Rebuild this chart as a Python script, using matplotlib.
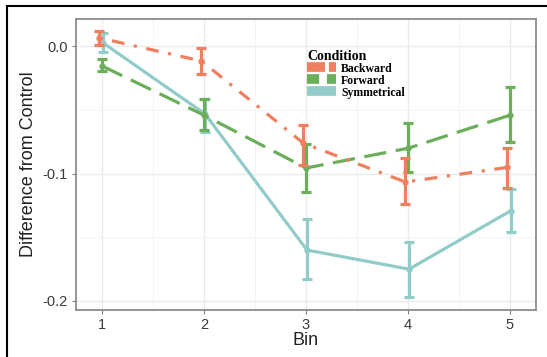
import matplotlib
matplotlib.use("Agg")
import matplotlib.pyplot as plt
from matplotlib.lines import Line2D
from matplotlib.patches import Rectangle
import numpy as np

bins = [1, 2, 3, 4, 5]
conditions = ["Backward", "Forward", "Symmetrical"]
backward = [0.0067, -0.0114, -0.076, -0.1065, -0.095]
backward_lo = [0.001, -0.0216, -0.093, -0.124, -0.111]
backward_hi = [0.012, -0.001, -0.062, -0.088, -0.080]
forward = [-0.0153, -0.054, -0.0955, -0.080, -0.054]
forward_lo = [-0.019, -0.066, -0.114, -0.0986, -0.075]
forward_hi = [-0.0098, -0.041, -0.077, -0.0605, -0.032]
symm = [0.0028, -0.053, -0.160, -0.175, -0.129]
symm_lo = [-0.0043, -0.067, -0.1827, -0.197, -0.1458]
symm_hi = [0.0106, -0.041, -0.1355, -0.1536, -0.112]

colors = ["#EE7F5F", "#6BAE5B", "#92CCC8"]
offsets = [-0.025, 0.0, 0.01]

plt.rcParams['font.family'] = ['Liberation Sans', 'DejaVu Sans']

fig = plt.figure(figsize=(5.47, 3.57), dpi=100)
ax = fig.add_axes([76/547, 1 - 310/357, 460/547, 291/357])

series = [(backward, backward_lo, backward_hi), (forward, forward_lo, forward_hi), (symm, symm_lo, symm_hi)]
lw = 2.3
dash_styles = [(0, (1, 3, 4, 3)), (0, (7, 3)), '-']
zorders = [4, 3, 2]
for (vals, lo, hi), c, off, ls, z in zip(series, colors, offsets, dash_styles, zorders):
    x = np.array(bins) + off
    vals = np.array(vals)
    yerr = np.vstack([vals - np.array(lo), np.array(hi) - vals])
    ax.plot(x, vals, color=c, lw=lw, linestyle=ls, zorder=z, solid_capstyle='butt', dash_capstyle='butt')
    ax.errorbar(x, vals, yerr=yerr, fmt='o', color=c, ms=3.5, elinewidth=lw, capsize=3.5,
                capthick=lw, zorder=z)

ax.set_xlim(0.745, 5.255)
ax.set_ylim(-0.2071, 0.0216)
ax.set_xticks(bins)
ax.set_yticks([0.0, -0.1, -0.2])
ax.set_yticklabels(["0.0", "-0.1", "-0.2"])
ax.set_xticks([1.5, 2.5, 3.5, 4.5], minor=True)
ax.set_yticks([-0.05, -0.15], minor=True)
ax.grid(which='major', color='#EBEBEB', lw=1.0)
ax.grid(which='minor', color='#F2F2F2', lw=0.6)
ax.set_axisbelow(True)
ax.tick_params(which='major', length=3, width=0.8, color='#7F7F7F', labelsize=10.5, labelcolor='#3A3A3A', pad=3)
ax.tick_params(which='minor', length=0)
for s in ax.spines.values():
    s.set_color('#8C8C8C')
    s.set_linewidth(1.3)

ax.set_xlabel("Bin", fontsize=13, color='#222222', labelpad=0)
ax.set_ylabel("Difference from Control", fontsize=13, color='#222222', labelpad=4)

handles = [
    Line2D([], [], color=colors[0], lw=7, dashes=(1.85, 0.4, 0.75, 2.0), dash_capstyle='butt'),
    Line2D([], [], color=colors[1], lw=7, dashes=(1.25, 0.8), dash_capstyle='butt'),
    Line2D([], [], color=colors[2], lw=7, solid_capstyle='butt'),
]
leg = ax.legend(handles, conditions, title="Condition", loc='upper left',
                bbox_to_anchor=(0.502, 0.895), frameon=False, borderpad=0, borderaxespad=0,
                handlelength=2.45, handletextpad=0.45, labelspacing=0.0,
                prop={'family': 'Liberation Serif', 'weight': 'bold', 'size': 8.5})
leg.get_title().set_fontfamily('Liberation Serif')
leg.get_title().set_fontweight('bold')
leg.get_title().set_fontsize(10)
leg._legend_box.align = "left"

fig.patches.append(Rectangle((7/547, -0.1), 1.2, (1 - 6/357) + 0.1, transform=fig.transFigure,
                             fill=False, edgecolor='black', lw=1.5, clip_on=False))

fig.savefig("out.png", dpi=100)
